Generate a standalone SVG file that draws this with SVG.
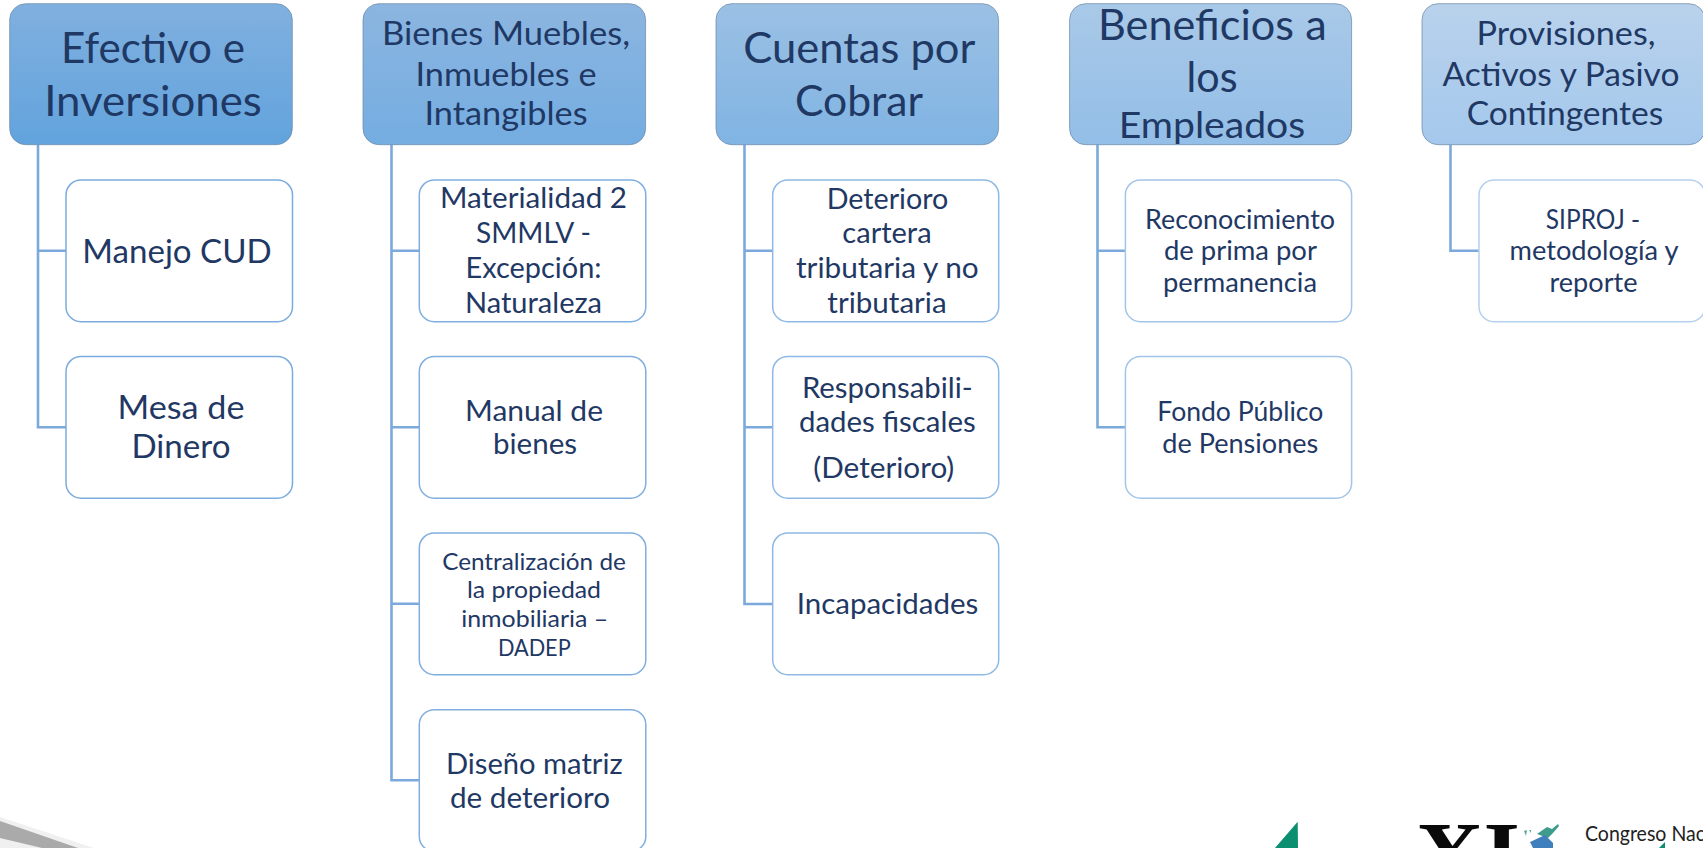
<svg xmlns="http://www.w3.org/2000/svg" width="1703" height="848" viewBox="0 0 1703 848">
<style>
text{font-family:"Lato","Carlito","Open Sans",sans-serif;fill:#1f3864;text-anchor:middle;}
.hd{stroke:#6d8cab;stroke-opacity:.75;stroke-width:1;}
.ch{fill:#fff;stroke-width:1.5;}
.conn{fill:none;stroke:#7ba9dc;stroke-width:2.6;}
.s41{font-size:42.5px}.s35{font-size:36px}.s31{font-size:32px}.s28{font-size:29px}.s25{font-size:26px}.s23{font-size:24px}
</style>
<defs>
<linearGradient id="g1" x1="0" y1="0" x2="0" y2="1"><stop offset="0" stop-color="#80b0df"/><stop offset="1" stop-color="#62a3dd"/></linearGradient>
<linearGradient id="g2" x1="0" y1="0" x2="0" y2="1"><stop offset="0" stop-color="#8cb5e0"/><stop offset="1" stop-color="#74ade1"/></linearGradient>
<linearGradient id="g3" x1="0" y1="0" x2="0" y2="1"><stop offset="0" stop-color="#9bc0e4"/><stop offset="1" stop-color="#80b4e3"/></linearGradient>
<linearGradient id="g4" x1="0" y1="0" x2="0" y2="1"><stop offset="0" stop-color="#a9c9e8"/><stop offset="1" stop-color="#93bee7"/></linearGradient>
<linearGradient id="g5" x1="0" y1="0" x2="0" y2="1"><stop offset="0" stop-color="#b9d2ec"/><stop offset="1" stop-color="#a4c8ec"/></linearGradient>
</defs>
<rect width="1703" height="848" fill="#fff"/>

<g id="decor">
<polygon points="0,817 94,848 0,848" fill="#f0f0f0"/>
<polygon points="0,821 78,848 42,848 0,838" fill="#aaaaaa"/>
<polygon points="1297.7,821.7 1275,848 1298,848" fill="#0b8f70"/>
<text x="1468" y="886" font-size="93" font-weight="700" textLength="104" lengthAdjust="spacingAndGlyphs" style="font-family:'Liberation Serif',serif;fill:#0a0a0a">XI</text>
<polygon points="1537,834 1547,827 1552,829 1558,824 1559,826 1553,833 1548,838" fill="#3f9c8c"/>
<polygon points="1524,831 1527,830 1526,836" fill="#5aa99a"/>
<polygon points="1529,830 1531,830 1531,833" fill="#5aa99a"/>
<polygon points="1530,842 1545,835 1553,843 1553,848 1533,848" fill="#3f7fbd"/>
<text x="1645" y="840.7" font-size="21" textLength="120" lengthAdjust="spacingAndGlyphs" style="fill:#222">Congreso Nac</text>
<polygon points="1665,842 1659,848 1665,848" fill="#0b8f70"/>
</g>

<g id="connectors">
<path class="conn" d="M38,144.5V427.3H66M38,250.7H66"/>
<path class="conn" d="M391.5,144.5V780.3H419.3M391.5,250.7H419.3M391.5,427.3H419.3M391.5,603.8H419.3"/>
<path class="conn" d="M744.5,144.5V604H772.7M744.5,250.7H772.7M744.5,427.3H772.7"/>
<path class="conn" d="M1097.5,144.5V427.3H1125.4M1097.5,250.7H1125.4"/>
<path class="conn" d="M1450.5,144.5V250.7H1479"/>
</g>

<g id="h1"><rect class="hd" x="9.7" y="3.7" width="282.6" height="141" rx="16" fill="url(#g1)"/>
<text class="s41" x="153" y="63" textLength="184" lengthAdjust="spacingAndGlyphs">Efectivo e</text>
<text class="s41" x="153" y="115.7" textLength="217.6" lengthAdjust="spacingAndGlyphs">Inversiones</text></g>
<g id="c1a"><rect class="ch" stroke="#7cabdd" x="66" y="180" width="226.5" height="141.7" rx="15"/>
<text class="s31" x="177" y="262.7" textLength="189.5" lengthAdjust="spacingAndGlyphs">Manejo CUD</text></g>
<g id="c1b"><rect class="ch" stroke="#7cabdd" x="66" y="356.5" width="226.5" height="141.7" rx="15"/>
<text class="s31" x="181" y="419.3" textLength="127" lengthAdjust="spacingAndGlyphs">Mesa de</text>
<text class="s31" x="181" y="458.3" textLength="99" lengthAdjust="spacingAndGlyphs">Dinero</text></g>

<g id="h2"><rect class="hd" x="363" y="3.7" width="282.6" height="141" rx="16" fill="url(#g2)"/>
<text class="s31" x="506" y="45" textLength="248" lengthAdjust="spacingAndGlyphs">Bienes Muebles,</text>
<text class="s31" x="506" y="86" textLength="181" lengthAdjust="spacingAndGlyphs">Inmuebles e</text>
<text class="s31" x="506" y="125" textLength="163" lengthAdjust="spacingAndGlyphs">Intangibles</text></g>
<g id="c2a"><rect class="ch" stroke="#80aee0" x="419.3" y="180" width="226.5" height="141.7" rx="15"/>
<text class="s28" x="533.5" y="208" textLength="187" lengthAdjust="spacingAndGlyphs">Materialidad 2</text>
<text class="s28" x="533.5" y="243" textLength="115" lengthAdjust="spacingAndGlyphs">SMMLV -</text>
<text class="s28" x="533.5" y="278" textLength="136" lengthAdjust="spacingAndGlyphs">Excepción:</text>
<text class="s28" x="533.5" y="312.7" textLength="137" lengthAdjust="spacingAndGlyphs">Naturaleza</text></g>
<g id="c2b"><rect class="ch" stroke="#80aee0" x="419.3" y="356.5" width="226.5" height="141.7" rx="15"/>
<text class="s28" x="534" y="421" textLength="138" lengthAdjust="spacingAndGlyphs">Manual de</text>
<text class="s28" x="535" y="454.3" textLength="84" lengthAdjust="spacingAndGlyphs">bienes</text></g>
<g id="c2c"><rect class="ch" stroke="#80aee0" x="419.3" y="533" width="226.5" height="141.7" rx="15"/>
<text class="s23" x="534" y="570" textLength="183.7" lengthAdjust="spacingAndGlyphs">Centralización de</text>
<text class="s23" x="534" y="598.3" textLength="134" lengthAdjust="spacingAndGlyphs">la propiedad</text>
<text class="s23" x="534.7" y="627.3" textLength="147" lengthAdjust="spacingAndGlyphs">inmobiliaria –</text>
<text class="s23" x="534.3" y="655.7" textLength="72.7" lengthAdjust="spacingAndGlyphs">DADEP</text></g>
<g id="c2d"><rect class="ch" stroke="#80aee0" x="419.3" y="709.7" width="226.5" height="141.7" rx="15"/>
<text class="s28" x="534.3" y="774" textLength="176.7" lengthAdjust="spacingAndGlyphs">Diseño matriz</text>
<text class="s28" x="530" y="808" textLength="160" lengthAdjust="spacingAndGlyphs">de deterioro</text></g>

<g id="h3"><rect class="hd" x="716" y="3.7" width="282.6" height="141" rx="16" fill="url(#g3)"/>
<text class="s41" x="859.3" y="63.3" textLength="232" lengthAdjust="spacingAndGlyphs">Cuentas por</text>
<text class="s41" x="859" y="115.7" textLength="128" lengthAdjust="spacingAndGlyphs">Cobrar</text></g>
<g id="c3a"><rect class="ch" stroke="#8fb9e5" x="772.7" y="180" width="226" height="141.7" rx="15"/>
<text class="s28" x="887.5" y="209" textLength="121.7" lengthAdjust="spacingAndGlyphs">Deterioro</text>
<text class="s28" x="887" y="243.3" textLength="89.3" lengthAdjust="spacingAndGlyphs">cartera</text>
<text class="s28" x="887.3" y="277.7" textLength="182.7" lengthAdjust="spacingAndGlyphs">tributaria y no</text>
<text class="s28" x="887" y="312.7" textLength="119.3" lengthAdjust="spacingAndGlyphs">tributaria</text></g>
<g id="c3b"><rect class="ch" stroke="#8fb9e5" x="772.7" y="356.5" width="226" height="141.7" rx="15"/>
<text class="s28" x="887.3" y="398.3" textLength="170.7" lengthAdjust="spacingAndGlyphs">Responsabili-</text>
<text class="s28" x="887.3" y="431.7" textLength="176.7" lengthAdjust="spacingAndGlyphs">dades fiscales</text>
<text class="s28" x="883.8" y="477.7" textLength="141" lengthAdjust="spacingAndGlyphs">(Deterioro)</text></g>
<g id="c3c"><rect class="ch" stroke="#8fb9e5" x="772.7" y="533" width="226" height="141.7" rx="15"/>
<text class="s28" x="887.5" y="614" textLength="181.6" lengthAdjust="spacingAndGlyphs">Incapacidades</text></g>

<g id="h4"><rect class="hd" x="1069.6" y="3.7" width="282" height="141" rx="16" fill="url(#g4)"/>
<text class="s41" x="1212.3" y="40" textLength="228.7" lengthAdjust="spacingAndGlyphs">Beneficios a</text>
<text class="s41" x="1212" y="92.3" textLength="51" lengthAdjust="spacingAndGlyphs">los</text>
<text class="s35" x="1212" y="138.3" textLength="186.5" lengthAdjust="spacingAndGlyphs">Empleados</text></g>
<g id="c4a"><rect class="ch" stroke="#a2c5e9" x="1125.4" y="180" width="226.2" height="141.7" rx="15"/>
<text class="s25" x="1240" y="229" textLength="190" lengthAdjust="spacingAndGlyphs">Reconocimiento</text>
<text class="s25" x="1240.4" y="260" textLength="153" lengthAdjust="spacingAndGlyphs">de prima por</text>
<text class="s25" x="1240" y="291.7" textLength="154" lengthAdjust="spacingAndGlyphs">permanencia</text></g>
<g id="c4b"><rect class="ch" stroke="#a2c5e9" x="1125.4" y="356.5" width="226.2" height="141.7" rx="15"/>
<text class="s25" x="1240.3" y="420.7" textLength="166" lengthAdjust="spacingAndGlyphs">Fondo Público</text>
<text class="s25" x="1240.3" y="452.7" textLength="156" lengthAdjust="spacingAndGlyphs">de Pensiones</text></g>

<g id="h5"><rect class="hd" x="1422" y="3.7" width="283" height="141" rx="16" fill="url(#g5)"/>
<text class="s31" x="1566" y="45" textLength="179" lengthAdjust="spacingAndGlyphs">Provisiones,</text>
<text class="s31" x="1561" y="86" textLength="236.8" lengthAdjust="spacingAndGlyphs">Activos y Pasivo</text>
<text class="s31" x="1565" y="125.3" textLength="196.6" lengthAdjust="spacingAndGlyphs">Contingentes</text></g>
<g id="c5a"><rect class="ch" stroke="#b5d1ee" x="1479" y="180" width="226" height="141.7" rx="15"/>
<text class="s25" x="1593" y="229" textLength="94.3" lengthAdjust="spacingAndGlyphs">SIPROJ -</text>
<text class="s25" x="1594" y="260" textLength="169" lengthAdjust="spacingAndGlyphs">metodología y</text>
<text class="s25" x="1593.5" y="291.7" textLength="88" lengthAdjust="spacingAndGlyphs">reporte</text></g>
</svg>
